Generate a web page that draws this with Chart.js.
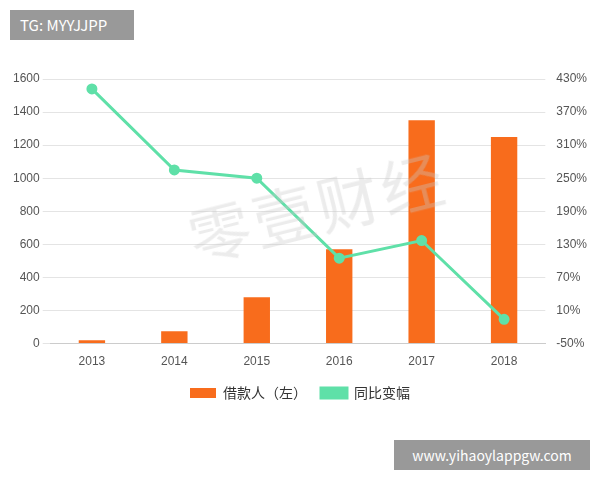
<!DOCTYPE html>
<html><head><meta charset="utf-8">
<script src="https://cdn.jsdelivr.net/npm/chart.js@4"></script>
<style>
body{margin:0;background:#fff;font-family:"Noto Sans CJK SC","Noto Sans",sans-serif;}
#wrap{position:relative;width:600px;height:480px;}
#tg{position:absolute;left:10px;top:10px;width:124px;height:30px;background:#999;color:#fff;font-size:15px;line-height:30px;padding-left:10px;box-sizing:border-box;}
#site{position:absolute;left:394px;top:440px;width:196px;height:30px;background:#999;color:#fff;font-size:14px;line-height:30px;text-align:center;}
#wm{position:absolute;left:185px;top:160px;font-size:62px;color:rgba(200,200,200,0.35);transform:rotate(-14deg);letter-spacing:4px;}
</style></head><body>
<div id="wrap">
<canvas id="c" width="600" height="480"></canvas>
<div id="wm">零壹财经</div>
<div id="tg">TG: MYYJJPP</div>
<div id="site">www.yihaoylappgw.com</div>
</div>
<script>
const years = ['2013','2014','2015','2016','2017','2018'];
const borrowers = [20, 75, 280, 570, 1350, 1250];
const yoyChange = [412, 265, 250, 105, 137, -6];

new Chart(document.getElementById('c'), {
    data: {
        labels: years,
        datasets: [
            { type: 'line', label: '同比变幅', data: yoyChange, yAxisID: 'y1',
              borderColor: '#5fe0a8', backgroundColor: '#5fe0a8', borderWidth: 3,
              pointRadius: 4, pointBackgroundColor: '#5fe0a8', tension: 0 },
            { type: 'bar', label: '借款人（左）', data: borrowers, yAxisID: 'y',
              backgroundColor: '#f86c1c', barPercentage: 0.32, categoryPercentage: 1 }
        ]
    },
    options: {
        responsive: false, animation: false,
        layout: { padding: { left: 10, right: 10, top: 79, bottom: 70 } },
        plugins: {
            legend: { position: 'bottom', reverse: true,
                labels: { font: { size: 14, family: 'Noto Sans CJK SC' }, color: '#333', boxWidth: 26, boxHeight: 10, padding: 14 } },
            tooltip: { enabled: false }
        },
        scales: {
            x: { grid: { display: false }, border: { color: '#ccc' },
                 ticks: { color: '#555', font: { size: 12 } } },
            y: { min: 0, max: 1600, position: 'left',
                 ticks: { stepSize: 200, color: '#555', font: { size: 12 }, callback: v => String(v) },
                 grid: { color: '#e4e4e4' }, border: { display: false } },
            y1: { min: -50, max: 430, position: 'right',
                  ticks: { stepSize: 60, color: '#555', font: { size: 12 }, callback: v => v + '%' },
                  grid: { display: false }, border: { display: false } }
        }
    }
});
</script>
</body></html>
